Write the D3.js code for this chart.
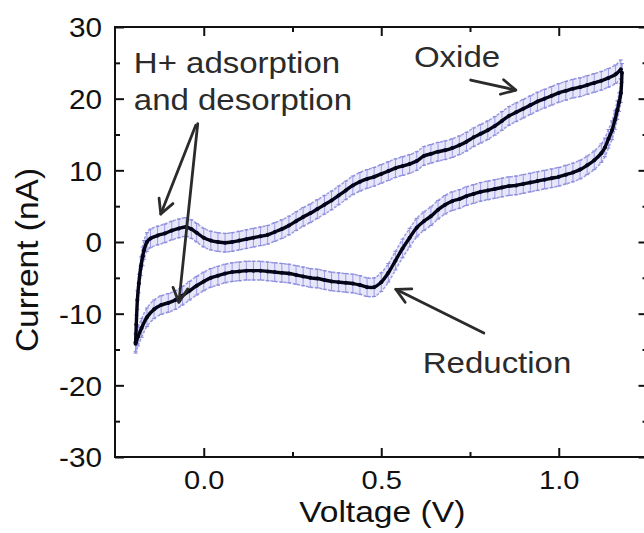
<!DOCTYPE html>
<html>
<head>
<meta charset="utf-8">
<script src="https://cdn.jsdelivr.net/npm/d3@7"></script>
<style>
  html, body { margin: 0; padding: 0; background: #fff; }
  svg { display: block; }
  text { font-family: "Liberation Sans", Arial, Helvetica, sans-serif; }
</style>
</head>
<body>
<svg id="chart" width="644" height="533"></svg>
<script>
// ---------------- data ----------------
// Anodic (forward) sweep
const fwdV = [-0.192,-0.19,-0.187,-0.183,-0.177,-0.172,-0.168,-0.16,-0.15,
  -0.13,-0.11,-0.09,-0.07,-0.05,-0.035,-0.02,
  0.00,0.02,0.04,0.06,0.08,0.10,0.12,0.14,0.16,0.18,
  0.20,0.22,0.24,0.26,0.28,0.30,0.32,0.34,0.36,0.38,
  0.40,0.42,0.44,0.46,0.48,0.50,0.52,0.54,0.56,0.58,
  0.60,0.62,0.64,0.66,0.68,0.70,0.72,0.74,0.76,0.78,
  0.80,0.82,0.84,0.86,0.88,0.90,0.92,0.94,0.96,0.98,
  1.00,1.02,1.04,1.06,1.08,1.10,1.12,1.14,1.16,1.175];
const fwdI = [-14.0,-11.5,-8.1,-5.8,-3.4,-2.0,-1.1,0.0,0.5,
  0.9,1.2,1.6,1.9,2.1,1.8,1.3,
  0.6,0.2,0.0,-0.1,0.0,0.2,0.4,0.6,0.8,1.0,
  1.4,1.8,2.3,2.9,3.5,4.0,4.6,5.2,5.8,6.5,
  7.2,7.9,8.4,8.8,9.1,9.5,9.9,10.3,10.6,10.9,
  11.3,12.0,12.3,12.6,12.8,13.1,13.5,14.0,14.6,15.1,
  15.6,16.2,16.9,17.6,18.1,18.6,19.1,19.6,20.0,20.4,
  20.8,21.1,21.4,21.6,21.9,22.2,22.5,22.9,23.4,24.1];
// Cathodic (reverse) sweep
const revV = [1.178,1.175,1.17,1.165,1.158,1.15,1.14,1.13,1.12,
  1.10,1.08,1.06,1.04,1.02,1.00,0.98,0.96,0.94,0.92,
  0.90,0.88,0.86,0.84,0.82,0.80,0.78,0.76,0.74,0.72,
  0.70,0.68,0.66,0.64,0.62,0.60,0.58,0.56,0.54,0.52,
  0.50,0.48,0.46,0.44,0.42,0.40,0.38,0.36,0.34,0.32,
  0.30,0.28,0.26,0.24,0.22,0.20,0.18,0.16,0.14,0.12,
  0.10,0.08,0.06,0.04,0.02,0.00,-0.02,-0.04,-0.06,-0.08,
  -0.10,-0.12,-0.14,-0.16,-0.175,-0.185,-0.192];
const revI = [23.6,20.8,19.5,18.4,17.0,15.6,14.4,13.2,12.4,
  11.4,10.7,10.1,9.7,9.4,9.1,8.9,8.7,8.5,8.3,
  8.1,7.9,7.8,7.6,7.4,7.2,7.0,6.7,6.4,6.0,
  5.7,5.2,4.5,3.6,2.9,2.0,0.6,-0.9,-2.6,-4.3,
  -5.6,-6.3,-6.3,-6.0,-5.8,-5.7,-5.6,-5.5,-5.3,-5.1,
  -5.0,-4.8,-4.6,-4.4,-4.3,-4.2,-4.1,-4.0,-4.0,-4.0,
  -4.1,-4.2,-4.4,-4.7,-5.0,-5.5,-6.1,-6.8,-7.5,-8.1,
  -8.5,-8.8,-9.4,-10.5,-12.0,-13.2,-14.2];
const errHalf = 1.3; // nA, half-height of the error bars

const xMajorTicks = [0.0, 0.5, 1.0];
const xMajorLabels = ["0.0", "0.5", "1.0"];
const xMinorTicks = [0.25, 0.75];
const yMajorTicks = [-30, -20, -10, 0, 10, 20, 30];
const yMajorLabels = ["-30", "-20", "-10", "0", "10", "20", "30"];
const yMinorTicks = [-25, -15, -5, 5, 15, 25];

const xTitle = "Voltage (V)";
const yTitle = "Current (nA)";

// annotations in data units
const labels = [
  { text: "H+ adsorption", v: -0.197, i: 23.6 },
  { text: "and desorption", v: -0.197, i: 18.4 },
  { text: "Oxide", v: 0.592, i: 24.4 },
  { text: "Reduction", v: 0.617, i: -18.3 }
];
const arrows = [
  { v0: -0.0225, i0: 16.3, v1: -0.121, i1: 3.9 },
  { v0: -0.017, i0: 16.5, v1: -0.070, i1: -8.4 },
  { v0: 0.752, i0: 22.6, v1: 0.879, i1: 21.2 },
  { v0: 0.789, i0: -12.7, v1: 0.541, i1: -6.6 }
];

// ---------------- layout ----------------
const svg = d3.select("#chart");
const L = 115, R = 647.5, T = 27, B = 457;
const x = d3.scaleLinear().domain([-0.25, 1.25]).range([L, R]);
const y = d3.scaleLinear().domain([-30, 30]).range([B, T]);

const fwd = fwdV.map((v, k) => ({ v, i: fwdI[k] }));
const rev = revV.map((v, k) => ({ v, i: revI[k] }));
const branches = [fwd, rev];

const curve = d3.curveCatmullRom.alpha(0.5);
const band = d3.area().curve(curve)
  .x(d => x(d.v)).y0(d => y(d.i - errHalf)).y1(d => y(d.i + errHalf));
const line = d3.line().curve(curve).x(d => x(d.v)).y(d => y(d.i));
const lineHi = d3.line().curve(curve).x(d => x(d.v)).y(d => y(d.i + errHalf));
const lineLo = d3.line().curve(curve).x(d => x(d.v)).y(d => y(d.i - errHalf));

const plot = svg.append("g");

// error band
plot.selectAll("path.band").data(branches).join("path")
  .attr("class", "band").attr("d", band)
  .attr("fill", "#cfcff3").attr("fill-opacity", 0.5).attr("stroke", "none");
// error bars
branches.forEach(br => {
  plot.append("g").selectAll("line").data(br).join("line")
    .attr("x1", d => x(d.v)).attr("x2", d => x(d.v))
    .attr("y1", d => y(d.i - errHalf)).attr("y2", d => y(d.i + errHalf))
    .attr("stroke", "#9c9ce6").attr("stroke-width", 1);
  plot.append("g").selectAll("line").data(br.flatMap(d => [d.i - errHalf, d.i + errHalf].map(e => ({ v: d.v, e }))))
    .join("line")
    .attr("x1", d => x(d.v) - 2).attr("x2", d => x(d.v) + 2)
    .attr("y1", d => y(d.e)).attr("y2", d => y(d.e))
    .attr("stroke", "#8a8ade").attr("stroke-width", 1);
});
// band edges
[lineHi, lineLo].forEach(gen => {
  plot.selectAll(null).data(branches).join("path")
    .attr("d", gen).attr("fill", "none")
    .attr("stroke", "#8c8cdc").attr("stroke-width", 1.5).attr("stroke-opacity", 0.85)
    .attr("stroke-dasharray", "3,1.5");
});
// main curve
plot.selectAll("path.cv").data(branches).join("path")
  .attr("class", "cv").attr("d", line)
  .attr("fill", "none").attr("stroke", "#05051a").attr("stroke-width", 3.4)
  .attr("stroke-linejoin", "round");
branches.forEach(br => {
  plot.append("g").selectAll("circle").data(br).join("circle")
    .attr("cx", d => x(d.v)).attr("cy", d => y(d.i)).attr("r", 2)
    .attr("fill", "#05051a");
});

// ---------------- axes ----------------
const axisColor = "#111";
function styleAxis(g) {
  g.select(".domain").remove();
  g.selectAll(".tick line").attr("stroke", axisColor).attr("stroke-width", 2);
}
// bottom
const gB = svg.append("g").attr("transform", `translate(0,${B})`);
gB.call(d3.axisBottom(x).tickValues(xMajorTicks).tickSize(-9)
  .tickFormat((d, k) => xMajorLabels[k])).call(styleAxis);
gB.selectAll(".tick text").attr("y", null).attr("dy", null)
  .attr("transform", "translate(0,32) scale(1.12,1)")
  .attr("font-size", 26).attr("fill", "#111").attr("text-anchor", "middle");
svg.append("g").attr("transform", `translate(0,${B})`)
  .call(d3.axisBottom(x).tickValues(xMinorTicks).tickSize(-5).tickFormat("")).call(styleAxis);
// top
svg.append("g").attr("transform", `translate(0,${T})`)
  .call(d3.axisTop(x).tickValues(xMajorTicks).tickSize(-9).tickFormat("")).call(styleAxis);
svg.append("g").attr("transform", `translate(0,${T})`)
  .call(d3.axisTop(x).tickValues(xMinorTicks).tickSize(-5).tickFormat("")).call(styleAxis);
// left
const gL = svg.append("g").attr("transform", `translate(${L},0)`);
gL.call(d3.axisLeft(y).tickValues(yMajorTicks).tickSize(-9)
  .tickFormat((d, k) => yMajorLabels[k])).call(styleAxis);
gL.selectAll(".tick text").attr("x", null).attr("dy", null)
  .attr("transform", "translate(-13,9.7) scale(1.1,1)")
  .attr("font-size", 27).attr("fill", "#111").attr("text-anchor", "end");
svg.append("g").attr("transform", `translate(${L},0)`)
  .call(d3.axisLeft(y).tickValues(yMinorTicks).tickSize(-5).tickFormat("")).call(styleAxis);
// right
svg.append("g").attr("transform", `translate(${R},0)`)
  .call(d3.axisRight(y).tickValues(yMajorTicks).tickSize(-9).tickFormat("")).call(styleAxis);
svg.append("g").attr("transform", `translate(${R},0)`)
  .call(d3.axisRight(y).tickValues(yMinorTicks).tickSize(-5).tickFormat("")).call(styleAxis);

// frame
svg.append("rect").attr("x", L).attr("y", T).attr("width", R - L).attr("height", B - T)
  .attr("fill", "none").attr("stroke", axisColor).attr("stroke-width", 2);

// axis titles
svg.append("text").text(xTitle)
  .attr("transform", `translate(${(L + 647.5) / 2 + 1},522) scale(1.12,1)`)
  .attr("text-anchor", "middle").attr("font-size", 30).attr("fill", "#111");
svg.append("text").text(yTitle)
  .attr("transform", "translate(38,260) rotate(-90) scale(1.08,1)")
  .attr("text-anchor", "middle").attr("font-size", 31).attr("fill", "#111");

// ---------------- annotations ----------------
const annColor = "#2b2b2b";
svg.selectAll("text.ann").data(labels).join("text")
  .attr("class", "ann").text(d => d.text)
  .attr("transform", d => `translate(${x(d.v)},${y(d.i)}) scale(1.1,1)`)
  .attr("font-size", 30).attr("fill", annColor);

const arrowG = svg.append("g").attr("stroke", annColor).attr("stroke-width", 2.8)
  .attr("fill", "none").attr("stroke-linecap", "round").attr("stroke-linejoin", "round");
arrows.forEach(a => {
  const x0 = x(a.v0), y0 = y(a.i0), x1 = x(a.v1), y1 = y(a.i1);
  const ang = Math.atan2(y1 - y0, x1 - x0);
  const len = 16, spread = Math.PI / 6.5;
  arrowG.append("line").attr("x1", x0).attr("y1", y0).attr("x2", x1).attr("y2", y1);
  const p = d3.path();
  p.moveTo(x1 - len * Math.cos(ang - spread), y1 - len * Math.sin(ang - spread));
  p.lineTo(x1, y1);
  p.lineTo(x1 - len * Math.cos(ang + spread), y1 - len * Math.sin(ang + spread));
  arrowG.append("path").attr("d", p.toString());
});
</script>
</body>
</html>
